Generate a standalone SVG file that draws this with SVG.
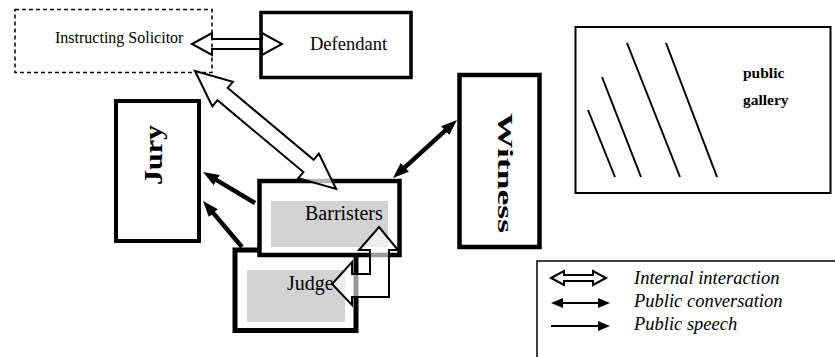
<svg xmlns="http://www.w3.org/2000/svg" width="835" height="357" viewBox="0 0 835 357">
<style>
text{font-family:"Liberation Serif","Times New Roman",serif;fill:#000}
.box{fill:#fff;stroke:#000}
.shade{fill:#d2d2d2;stroke:none}
.hollow{stroke:#000;stroke-width:2;stroke-linejoin:miter}
.speech{stroke:#000;stroke-width:4.5;fill:none}
.leg{stroke:#000;stroke-width:2;fill:none}
.hatch{stroke:#000;stroke-width:2}
.it{font-style:italic;font-size:18.5px}
</style>
<defs>
<marker id="hd" viewBox="0 0 16 12" refX="6" refY="6" markerWidth="16" markerHeight="12" markerUnits="userSpaceOnUse" orient="auto-start-reverse">
<path d="M0,0 L16,6 L0,12 z" fill="#000"/>
</marker>
<marker id="hs" viewBox="0 0 12 10" refX="4" refY="5" markerWidth="12" markerHeight="10" markerUnits="userSpaceOnUse" orient="auto-start-reverse">
<path d="M0,0 L12,5 L0,10 z" fill="#000"/>
</marker>
</defs>
<rect width="835" height="357" fill="#fff"/>

<g id="solicitor">
<rect x="15" y="9.5" width="197" height="63" fill="#fff" stroke="#000" stroke-width="1.5" stroke-dasharray="4 3"/>
<text x="55" y="43" font-size="16">Instructing Solicitor</text>
</g>

<g id="defendant">
<rect class="box" x="261" y="12.5" width="150" height="65" stroke-width="3.5"/>
<text x="310" y="50" font-size="18.5">Defendant</text>
</g>

<g id="jury">
<rect class="box" x="116" y="101" width="83" height="140" stroke-width="4"/>
<text transform="translate(162,185) rotate(-90)" font-size="25" font-weight="bold" textLength="60" lengthAdjust="spacingAndGlyphs">Jury</text>
</g>

<g id="witness">
<rect class="box" x="459.5" y="75" width="80" height="172" stroke-width="4.5"/>
<text transform="translate(498,113) rotate(90)" font-size="22" font-weight="bold" textLength="120" lengthAdjust="spacingAndGlyphs">Witness</text>
</g>

<g id="judge">
<rect class="box" x="235" y="250" width="121" height="80.5" stroke-width="5"/>
<rect class="shade" x="247" y="270" width="98" height="52"/>
<text x="287" y="290" font-size="20">Judge</text>
</g>

<g id="barristers">
<rect class="box" x="259.5" y="181" width="140" height="74" stroke-width="4.5"/>
<rect class="shade" x="271" y="201" width="117" height="46"/>
<text x="305" y="220" font-size="20">Barristers</text>
</g>

<g id="public-gallery">
<rect x="575.5" y="27" width="255" height="166" fill="#fff" stroke="#000" stroke-width="2"/>
<line class="hatch" x1="588" y1="110" x2="615" y2="177"/>
<line class="hatch" x1="602" y1="77" x2="641" y2="177"/>
<line class="hatch" x1="627" y1="43" x2="680" y2="177"/>
<line class="hatch" x1="666" y1="43" x2="717" y2="177"/>
<text x="743" y="78" font-size="15.5" font-weight="bold">public</text>
<text x="743" y="105" font-size="15.5" font-weight="bold">gallery</text>
</g>

<g id="legend">
<path d="M537,357 V261 H835" fill="none" stroke="#000" stroke-width="1.5"/>
<polygon class="hollow" fill="#fff" points="551,278 564,271 564,275 593,275 593,271 606,278 593,285 593,281 564,281 564,285"/>
<line class="leg" x1="559" y1="303" x2="602" y2="303" marker-start="url(#hs)" marker-end="url(#hs)"/>
<line class="leg" x1="551" y1="326" x2="602" y2="326" marker-end="url(#hs)"/>
<text class="it" x="634" y="284">Internal interaction</text>
<text class="it" x="634" y="307">Public conversation</text>
<text class="it" x="634" y="330">Public speech</text>
</g>

<g id="connectors">
<polygon class="hollow" fill="none" points="192,44 212,33 212,39 262,39 262,33 282,44 262,55 262,49 212,49 212,55"/>
<polygon class="hollow" fill="#fff" fill-opacity="0.7" transform="translate(195,71) rotate(39.9)" points="0,0 36,-16 36,-8 148,-8 148,-16 184,0 148,16 148,8 36,8 36,16"/>
<polygon class="hollow" fill="#fff" fill-opacity="0.6" points="379,227 398,250 389,250 389,297 352,297 352,305 332,284 352,262 352,274 370,274 370,250 359,250"/>
<line class="speech" x1="255" y1="203" x2="211.6" y2="177.1" marker-end="url(#hd)"/>
<line class="speech" x1="242" y1="247" x2="209.5" y2="208.6" marker-end="url(#hd)"/>
<line class="speech" x1="400.4" y1="171.3" x2="449.6" y2="126.7" marker-start="url(#hd)" marker-end="url(#hd)"/>
</g>
</svg>
